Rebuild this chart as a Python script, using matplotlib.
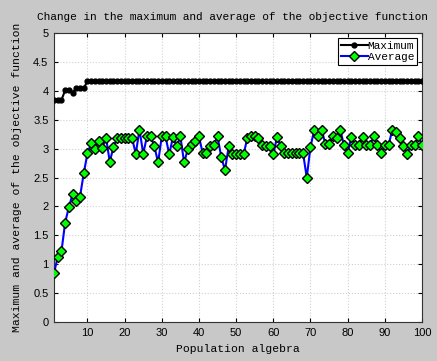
import numpy as np
import matplotlib
matplotlib.use("Agg")
import matplotlib.pyplot as plt

# generations
generations = np.arange(1, 101)

# best value of each generation
maximum = [3.84, 3.84, 3.84, 4.01, 4.01, 3.97, 4.04, 4.05, 4.04, 4.17,
           4.17, 4.17, 4.17, 4.17, 4.17, 4.17, 4.17, 4.17, 4.17, 4.17,
           4.17, 4.17, 4.17, 4.17, 4.17, 4.17, 4.17, 4.17, 4.17, 4.17,
           4.17, 4.17, 4.17, 4.17, 4.17, 4.17, 4.17, 4.17, 4.17, 4.17,
           4.17, 4.17, 4.17, 4.17, 4.17, 4.17, 4.17, 4.17, 4.17, 4.17,
           4.17, 4.17, 4.17, 4.17, 4.17, 4.17, 4.17, 4.17, 4.17, 4.17,
           4.17, 4.17, 4.17, 4.17, 4.17, 4.17, 4.17, 4.17, 4.17, 4.17,
           4.17, 4.17, 4.17, 4.17, 4.17, 4.17, 4.17, 4.17, 4.17, 4.17,
           4.17, 4.17, 4.17, 4.17, 4.17, 4.17, 4.17, 4.17, 4.17, 4.17,
           4.17, 4.17, 4.17, 4.17, 4.17, 4.17, 4.17, 4.17, 4.17, 4.17]

# population average of each generation
average = [0.84, 1.13, 1.22, 1.72, 1.99, 2.21, 2.10, 2.17, 2.57, 2.92,
           3.09, 2.99, 3.14, 3.01, 3.19, 2.77, 3.03, 3.18, 3.18, 3.18,
           3.18, 3.18, 2.91, 3.33, 2.91, 3.21, 3.21, 3.04, 2.76, 3.21,
           3.21, 2.90, 3.20, 3.04, 3.21, 2.76, 2.99, 3.08, 3.13, 3.21,
           2.92, 2.92, 3.04, 3.07, 3.21, 2.85, 2.63, 3.04, 2.90, 2.90,
           2.90, 2.90, 3.18, 3.21, 3.21, 3.18, 3.06, 3.04, 3.04, 2.90,
           3.20, 3.04, 2.92, 2.92, 2.92, 2.92, 2.92, 2.92, 2.50, 3.03,
           3.32, 3.21, 3.33, 3.08, 3.08, 3.21, 3.18, 3.33, 3.06, 2.92,
           3.20, 3.06, 3.06, 3.20, 3.06, 3.06, 3.21, 3.06, 2.92, 3.06,
           3.06, 3.32, 3.29, 3.18, 3.04, 2.91, 3.06, 3.06, 3.21, 3.06]

xticks = np.arange(10, 101, 10)
yticks = np.arange(0, 5.01, 0.5)
ytick_labels = ["0", "0.5", "1", "1.5", "2", "2.5", "3", "3.5", "4", "4.5", "5"]

mono = "Liberation Mono"
W, H = 437, 361

fig = plt.figure(figsize=(W / 100, H / 100), dpi=100)
fig.patch.set_facecolor("#c8c8c8")
ax = fig.add_axes([54 / W, 1 - 322 / H, (422 - 54) / W, (322 - 33) / H])
ax.set_facecolor("white")

ax.plot(generations, maximum, color="black", lw=1.5, marker="o",
        markersize=3.5, markerfacecolor="black", markeredgecolor="black",
        label="Maximum", zorder=3)
ax.plot(generations, average, color="#0000ff", lw=1.5, marker="D",
        markersize=5.5, markerfacecolor="#00ff00", markeredgecolor="black",
        markeredgewidth=1.0, label="Average", zorder=4)

ax.set_xlim(1, 100)
ax.set_ylim(0, 5)
ax.set_xticks(xticks)
ax.set_yticks(yticks)
ax.set_yticklabels(ytick_labels)
ax.tick_params(direction="in", length=3, labelsize=8, colors="black",
               top=True, right=True, pad=4)
for lab in ax.get_xticklabels() + ax.get_yticklabels():
    lab.set_family("Liberation Sans")
ax.grid(True, color="#d0d0d0", linestyle=":", linewidth=0.8)
for s in ax.spines.values():
    s.set_linewidth(0.8)
    s.set_color("#333333")

leg = ax.legend(loc="upper right", bbox_to_anchor=(0.995, 0.995),
                prop={"family": mono, "size": 8}, handlelength=2.4,
                handletextpad=0.0, borderpad=0.25, labelspacing=0.15,
                fancybox=False, framealpha=1, edgecolor="black",
                borderaxespad=0.3)
leg.get_frame().set_linewidth(0.8)

fig.text(37 / W, 1 - 17 / H,
         "Change in the maximum and average of the objective function",
         family=mono, fontsize=8.0, ha="left", va="center")
fig.text(17 / W, 1 - 177 / H,
         "Maximum and average of the objective function",
         family=mono, fontsize=8.2, rotation=90, ha="center", va="center")
fig.text(238 / W, 1 - 349 / H, "Population algebra",
         family=mono, fontsize=8.2, ha="center", va="center")

fig.savefig("out.png", dpi=100, facecolor=fig.get_facecolor())
